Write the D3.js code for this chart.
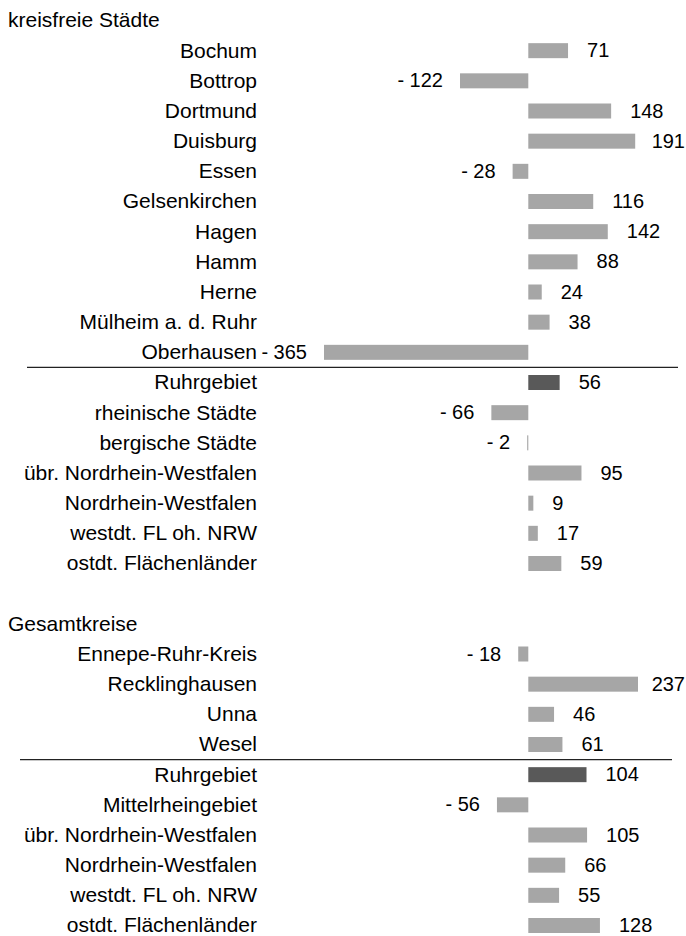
<!DOCTYPE html>
<html>
<head>
<meta charset="utf-8">
<script src="https://d3js.org/d3.v7.min.js"></script>
<style>
  html, body { margin: 0; padding: 0; background: #fff; }
  svg text { font-family: "Liberation Sans", Arial, sans-serif; font-size: 21px; fill: #000; }
  svg text.value { font-size: 20px; }
</style>
</head>
<body>
<div id="chart"></div>
<script>
(function (d3) {
    'use strict';

    // section titles
    var sectionTitles = ['kreisfreie Städte', 'Gesamtkreise'];

    // kreisfreie Städte
    var cityNames = ['Bochum', 'Bottrop', 'Dortmund', 'Duisburg', 'Essen', 'Gelsenkirchen',
        'Hagen', 'Hamm', 'Herne', 'Mülheim a. d. Ruhr', 'Oberhausen'];
    var cityValues = [71, -122, 148, 191, -28, 116, 142, 88, 24, 38, -365];

    var cityCompareNames = ['Ruhrgebiet', 'rheinische Städte', 'bergische Städte',
        'übr. Nordrhein-Westfalen', 'Nordrhein-Westfalen', 'westdt. FL oh. NRW', 'ostdt. Flächenländer'];
    var cityCompareValues = [56, -66, -2, 95, 9, 17, 59];

    // Gesamtkreise
    var districtNames = ['Ennepe-Ruhr-Kreis', 'Recklinghausen', 'Unna', 'Wesel'];
    var districtValues = [-18, 237, 46, 61];

    var districtCompareNames = ['Ruhrgebiet', 'Mittelrheingebiet', 'übr. Nordrhein-Westfalen',
        'Nordrhein-Westfalen', 'westdt. FL oh. NRW', 'ostdt. Flächenländer'];
    var districtCompareValues = [104, -56, 105, 66, 55, 128];

    var width = 686,
        height = 936;

    // build the row list: title, members, comparisons, gap, title, ...
    var rows = [], titles = [], separators = [], k = 0;

    function addSection(title, names, values, cmpNames, cmpValues) {
        titles.push({ text: title, k: k });
        k++;
        names.forEach(function (n, i) {
            rows.push({ name: n, value: values[i], k: k++, total: false });
        });
        separators.push(k - 0.5);
        cmpNames.forEach(function (n, i) {
            rows.push({ name: n, value: cmpValues[i], k: k++, total: i === 0 });
        });
    }

    addSection(sectionTitles[0], cityNames, cityValues, cityCompareNames, cityCompareValues);
    k++; // leere Zeile
    addSection(sectionTitles[1], districtNames, districtValues, districtCompareNames, districtCompareValues);

    var y = d3.scaleLinear().domain([0, k - 1]).range([20.5, 925.5]);
    // bars longer than the axis end are cut off (Recklinghausen)
    var x = d3.scaleLinear().domain([-365, 196]).range([324, 638]).clamp(true);
    var barH = 15;

    var svg = d3.select('#chart')
        .append('svg')
        .attr('width', width)
        .attr('height', height);

    svg.selectAll('text.title')
        .data(titles)
        .enter()
        .append('text')
        .attr('class', 'title')
        .attr('x', 8)
        .attr('y', function (d) { return y(d.k); })
        .attr('dy', '0.33em')
        .text(function (d) { return d.text; });

    svg.selectAll('text.name')
        .data(rows)
        .enter()
        .append('text')
        .attr('class', 'name')
        .attr('x', 257)
        .attr('y', function (d) { return y(d.k); })
        .attr('dy', '0.33em')
        .attr('text-anchor', 'end')
        .text(function (d) { return d.name; });

    svg.selectAll('rect.bar')
        .data(rows)
        .enter()
        .append('rect')
        .attr('class', 'bar')
        .attr('x', function (d) { return Math.min(x(0), x(d.value)); })
        .attr('y', function (d) { return y(d.k) - barH / 2; })
        .attr('width', function (d) { return Math.max(1, Math.abs(x(d.value) - x(0))); })
        .attr('height', barH)
        .attr('fill', function (d) { return d.total ? '#595959' : '#a6a6a6'; });

    svg.selectAll('text.value')
        .data(rows)
        .enter()
        .append('text')
        .attr('class', 'value')
        .attr('y', function (d) { return y(d.k); })
        .attr('dy', '0.33em')
        .attr('text-anchor', function (d) { return d.value < 0 ? 'end' : 'start'; })
        .text(function (d) { return d.value < 0 ? '- ' + Math.abs(d.value) : d.value; })
        .attr('x', function (d) {
            if (d.value < 0) return x(d.value) - 17;
            // keep labels on the page at the right edge
            var w = this.getComputedTextLength();
            return Math.min(x(d.value) + 19, width - 1 - w);
        });

    var sepX = [[27, 678], [20, 672]];
    svg.selectAll('line.sep')
        .data(separators)
        .enter()
        .append('line')
        .attr('class', 'sep')
        .attr('x1', function (d, i) { return sepX[i][0]; })
        .attr('x2', function (d, i) { return sepX[i][1]; })
        .attr('y1', function (d) { return y(d); })
        .attr('y2', function (d) { return y(d); })
        .attr('stroke', '#222')
        .attr('stroke-width', 1.3);

})(d3);
</script>
</body>
</html>
